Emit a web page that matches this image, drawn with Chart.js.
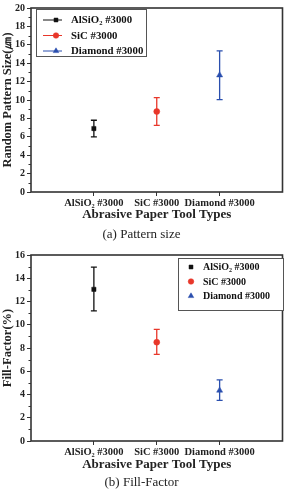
<!DOCTYPE html>
<html>
<head>
<meta charset="utf-8">
<script src="https://cdn.jsdelivr.net/npm/chart.js@4.4.1/dist/chart.umd.min.js"></script>
<style>
  html, body { margin: 0; padding: 0; background: #fff; }
  .box { width: 287px; height: 245px; position: relative; }
</style>
</head>
<body>
<div class="box"><canvas id="sizeChart"></canvas></div>
<div class="box"><canvas id="fillChart"></canvas></div>
<script>
const categories = ['AlSiO\u2082 #3000', 'SiC #3000', 'Diamond #3000'];
const seriesNames = ['AlSiO\u2082 #3000', 'SiC #3000', 'Diamond #3000'];

// (a) pattern size
const sizeMean = [6.9, 8.75, 12.7];
const sizeLow = [6.0, 7.25, 10.05];
const sizeHigh = [7.8, 10.25, 15.35];

// (b) fill factor
const fillMean = [13.05, 8.5, 4.35];
const fillLow = [11.2, 7.45, 3.5];
const fillHigh = [14.95, 9.6, 5.25];

const colors = ['#111111', '#e8372a', '#2a4fae'];
const markers = ['rect', 'circle', 'triangle'];
const serif = "'Liberation Serif', 'Times New Roman', serif";

// error bars, frame, minor ticks, legend box
const figPlugin = {
  id: 'fig',
  afterDatasetsDraw(chart, args, o) {
    const ctx = chart.ctx;
    const xs = chart.scales.x, ys = chart.scales.y;
    const a = chart.chartArea;
    ctx.save();
    // error bars
    o.low.forEach((lo, i) => {
      const x = xs.getPixelForValue(i + 1);
      const y1 = ys.getPixelForValue(lo), y2 = ys.getPixelForValue(o.high[i]);
      ctx.strokeStyle = colors[i];
      ctx.lineWidth = 1.3;
      ctx.beginPath();
      ctx.moveTo(x, y1); ctx.lineTo(x, y2);
      ctx.moveTo(x - 3, y1); ctx.lineTo(x + 3, y1);
      ctx.moveTo(x - 3, y2); ctx.lineTo(x + 3, y2);
      ctx.stroke();
    });
    // frame
    ctx.strokeStyle = '#333';
    ctx.lineWidth = 1.6;
    ctx.strokeRect(a.left, a.top, a.right - a.left, a.bottom - a.top);
    // minor ticks on y
    ctx.lineWidth = 1;
    ctx.beginPath();
    for (let v = 1; v < ys.max; v += 2) {
      const y = Math.round(ys.getPixelForValue(v)) + 0.5;
      ctx.moveTo(a.left, y); ctx.lineTo(a.left - 2.5, y);
    }
    ctx.stroke();
    // legend
    const L = o.legend;
    ctx.fillStyle = '#fff';
    ctx.fillRect(L.x, L.y, L.w, L.h);
    ctx.strokeStyle = '#555';
    ctx.lineWidth = 1;
    ctx.strokeRect(L.x + 0.5, L.y + 0.5, L.w, L.h);
    ctx.font = 'bold ' + L.font + 'px ' + serif;
    ctx.textBaseline = 'middle';
    seriesNames.forEach((name, i) => {
      const y = L.y + L.first + i * L.gap;
      ctx.strokeStyle = colors[i];
      ctx.fillStyle = colors[i];
      if (L.line) {
        ctx.lineWidth = 1;
        ctx.beginPath();
        ctx.moveTo(L.x + 7, y); ctx.lineTo(L.x + 26, y);
        ctx.stroke();
      }
      ctx.lineWidth = 0.5;
      Chart.helpers.drawPoint(ctx, {pointStyle: markers[i], radius: i === 2 ? 3.2 : 2.8, borderWidth: 0.5},
        L.x + L.mark, y);
      ctx.fillStyle = '#111';
      ctx.fillText(name, L.x + L.text, y + 0.5);
    });
    ctx.restore();
  }
};

function makeChart(id, mean, low, high, yMax, yTitle, caption, geo, legend) {
  const datasets = mean.map((m, i) => ({
    label: seriesNames[i],
    data: [{x: i + 1, y: m}],
    pointStyle: markers[i],
    pointRadius: i === 2 ? 3.5 : 3,
    backgroundColor: colors[i],
    borderColor: colors[i],
    borderWidth: 0.5,
    showLine: false
  }));
  return new Chart(document.getElementById(id), {
    type: 'scatter',
    data: { datasets },
    plugins: [figPlugin],
    options: {
      responsive: true,
      maintainAspectRatio: false,
      animation: false,
      layout: { padding: { top: geo.top, right: 4, left: 0, bottom: 0 } },
      plugins: {
        legend: { display: false },
        tooltip: { enabled: false },
        title: {
          display: true, position: 'bottom', text: caption, color: '#222',
          font: { family: serif, size: 13, weight: 'normal' },
          padding: { top: 2, bottom: geo.capPad }
        },
        fig: { low, high, legend }
      },
      scales: {
        x: {
          type: 'linear', min: 0, max: 4,
          afterBuildTicks: s => { s.ticks = [1, 2, 3].map(v => ({ value: v })); },
          afterFit: s => { s.height = geo.xh; },
          ticks: {
            callback: v => categories[v - 1] || '',
            color: '#222', padding: 1, maxRotation: 0, autoSkip: false,
            font: { family: serif, size: 10.5, weight: 'bold' }
          },
          grid: { drawOnChartArea: false, tickLength: 4, color: '#333' },
          border: { display: false },
          title: {
            display: true, text: 'Abrasive Paper Tool Types', color: '#222',
            font: { family: serif, size: 13, weight: 'bold' },
            padding: { top: 0, bottom: geo.xtPad }
          }
        },
        y: {
          min: 0, max: yMax,
          afterFit: s => { s.width = 31; },
          ticks: {
            stepSize: 2, color: '#222', padding: 2,
            font: { family: serif, size: 10, weight: 'bold' }
          },
          grid: { drawOnChartArea: false, tickLength: 4, color: '#333' },
          border: { display: false },
          title: {
            display: true, text: yTitle, color: '#222',
            font: { family: serif, size: 12.5, weight: 'bold' },
            padding: { top: 0, bottom: 0 }
          }
        }
      }
    }
  });
}

makeChart('sizeChart', sizeMean, sizeLow, sizeHigh, 20, 'Random Pattern Size(\u339B)', '(a) Pattern size',
  { top: 8, xh: 32.4, xtPad: 1.6, capPad: 3 },
  { x: 36, y: 9, w: 110, h: 47, first: 11, gap: 15.5, line: true, mark: 20, text: 35, font: 10.8 });

makeChart('fillChart', fillMean, fillLow, fillHigh, 16, 'Fill-Factor(%)', '(b) Fill-Factor',
  { top: 10, xh: 31.4, xtPad: 0, capPad: 0 },
  { x: 178, y: 13, w: 105, h: 52, first: 9, gap: 14.5, line: false, mark: 13, text: 25, font: 10 });
</script>
</body>
</html>
